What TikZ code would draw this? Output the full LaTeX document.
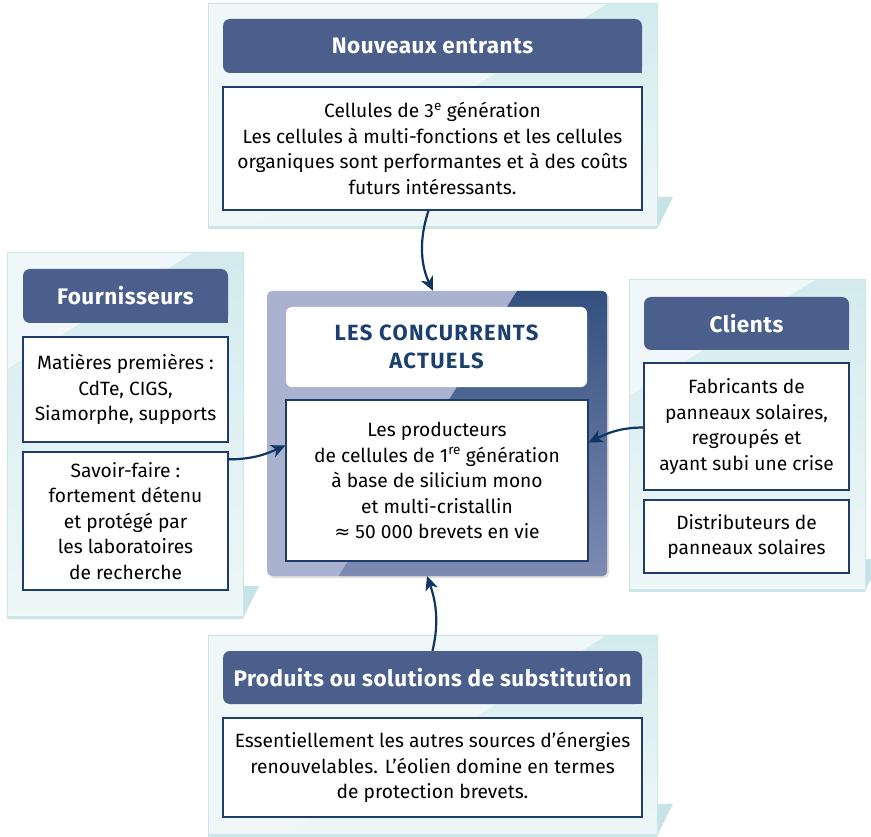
\documentclass[tikz,border=0pt]{standalone}
\usepackage{fontspec}
\setmainfont{Fira Sans}
\newfontfamily\symfont{DejaVu Sans}
\usetikzlibrary{arrows.meta,calc,shadows}
\definecolor{hdr}{HTML}{4A5F8C}
\definecolor{navy}{HTML}{0F3563}
\definecolor{bordr}{HTML}{1F3D6C}
\definecolor{pfill}{HTML}{EFF7F8}
\definecolor{pacc}{HTML}{D3EBEE}
\definecolor{pline}{HTML}{CBE6E9}
\definecolor{ptab}{HTML}{C6E4E8}
\definecolor{clight}{HTML}{A9B3CF}
\definecolor{cdark}{HTML}{33507F}
\definecolor{cdarkb}{HTML}{7E8BB2}
\definecolor{ttl}{HTML}{1B3F6E}
\newcommand\panelbg[4]{%
  \fill[pfill] (#1,#2) rectangle (#3,#4);
  \begin{scope}
    \clip (#1,#2) rectangle (#3,#4);
    \shade[top color=pacc, bottom color=pfill] (#3-50,#2) -- (#3,#2) -- (#3,#4) -- (#3-50-1.6*#4+1.6*#2,#4) -- cycle;
  \end{scope}
  \fill[ptab] (#3,#4-31) -- (#3+16,#4-31) -- (#3,#4+1) -- cycle;
  \draw[pline, line width=1pt] (#1,#2) rectangle (#3,#4);
  \draw[pline, line width=3pt] (#1,#4) -- (#3,#4);
}
\tikzset{
  hdrbox/.style={fill=hdr, rounded corners=7pt, text=white, font=\fontsize{22.5}{26}\selectfont\bfseries\addfontfeatures{LetterSpace=2.3}, inner sep=0pt},
  txtbox/.style={fill=white, draw=bordr, line width=1.3pt, align=center, font=\fontsize{19.2}{25.5}\selectfont, inner sep=0pt},
  arr/.style={draw=navy, line width=2.2pt, -{Stealth[length=14pt,width=13pt,inset=4pt]}},
}
\begin{document}
\begin{tikzpicture}[x=1pt,y=-1pt]
\useasboundingbox (0,0) rectangle (871,837);
% panels
\panelbg{208}{4}{657}{228}
\panelbg{7}{253}{243}{617}
\panelbg{629}{280}{865}{590}
\panelbg{208}{635}{657}{835}
% top
\node[hdrbox, minimum width=419pt, minimum height=54pt] (h1) at (432.5,46) {Nouveaux entrants};
\fill[hdr] (h1.south east) rectangle ++(-12,-12);
\node[txtbox, minimum width=419pt, minimum height=123pt] (t1) at (432.5,148.5)
  {Cellules de 3\textsuperscript{e} génération\\Les cellules à multi-fonctions et les cellules\\organiques sont performantes et à des coûts\\futurs intéressants.};
% left
\node[hdrbox, minimum width=205pt, minimum height=54pt] (h2) at (125.5,296) {Fournisseurs};
\fill[hdr] (h2.south east) rectangle ++(-12,-12);
\node[txtbox, minimum width=205pt, minimum height=105pt] (l1) at (125.5,389.5)
  {Matières premières :\\CdTe, CIGS,\\Siamorphe, supports};
\node[txtbox, minimum width=205pt, minimum height=138pt] (l2) at (125.5,521)
  {Savoir-faire :\\fortement détenu\\et protégé par\\les laboratoires\\de recherche};
% right
\node[hdrbox, minimum width=205pt, minimum height=53pt] (h3) at (746.5,323.5) {Clients};
\fill[hdr] (h3.south east) rectangle ++(-12,-12);
\node[txtbox, minimum width=205pt, minimum height=127pt] (r1) at (746.5,426.5)
  {Fabricants de\\panneaux solaires,\\regroupés et\\ayant subi une crise};
\node[txtbox, minimum width=205pt, minimum height=73pt] (r2) at (746.5,536.5)
  {Distributeurs de\\panneaux solaires};
% bottom
\node[hdrbox, minimum width=419pt, minimum height=53pt] (h4) at (432.5,677.5) {Produits ou solutions de substitution};
\fill[hdr] (h4.south east) rectangle ++(-12,-12);
\node[txtbox, minimum width=419pt, minimum height=99pt] (b1) at (432.5,767.5)
  {Essentiellement les autres sources d’énergies\\renouvelables. L’éolien domine en termes\\de protection brevets.};
% center
\node[fill=clight, rounded corners=5pt, minimum width=340pt, minimum height=285pt, inner sep=0pt,
  drop shadow={opacity=0.25, shadow xshift=2pt, shadow yshift=-2pt}] (cc) at (437,433.5) {};
\begin{scope}
  \clip[rounded corners=5pt] (cc.north west) rectangle (cc.south east);
  \shade[top color=cdark, bottom color=cdarkb] (517,291) -- (608,291) -- (608,577) -- (338,577) -- cycle;
\end{scope}
\node[fill=white, rounded corners=6pt, minimum width=301pt, minimum height=80pt, inner sep=0pt,
  align=center, text=ttl, font=\fontsize{22}{28}\selectfont\bfseries\addfontfeatures{LetterSpace=6}] (ct) at (436.5,347) {LES CONCURRENTS\\ACTUELS};
\node[txtbox, minimum width=302pt, minimum height=161pt] (cb) at (437,480.5)
  {Les producteurs\\de cellules de 1\textsuperscript{re} génération\\à base de silicium mono\\et multi-cristallin\\{\symfont ≈} 50\ 000 brevets en vie};
% arrows
\draw[arr] ($(t1.south)+(-4,0)$) .. controls +(-10,30) and +(-12,-25) .. ($(cc.north)+(-4,0)$);
\draw[arr] ($(l2.north east)+(0,8)$) .. controls +(25,0) and +(-18,8) .. ($(cb.west)+(0,-35)$);
\draw[arr] ($(r1.west)+(0,1)$) .. controls +(-25,0) and +(16,-8) .. ($(cb.east)+(0,-38)$);
\draw[arr] (h4.north) .. controls +(6,-25) and +(10,28) .. ($(cc.south)+(-10,0)$);
\end{tikzpicture}
\end{document}
